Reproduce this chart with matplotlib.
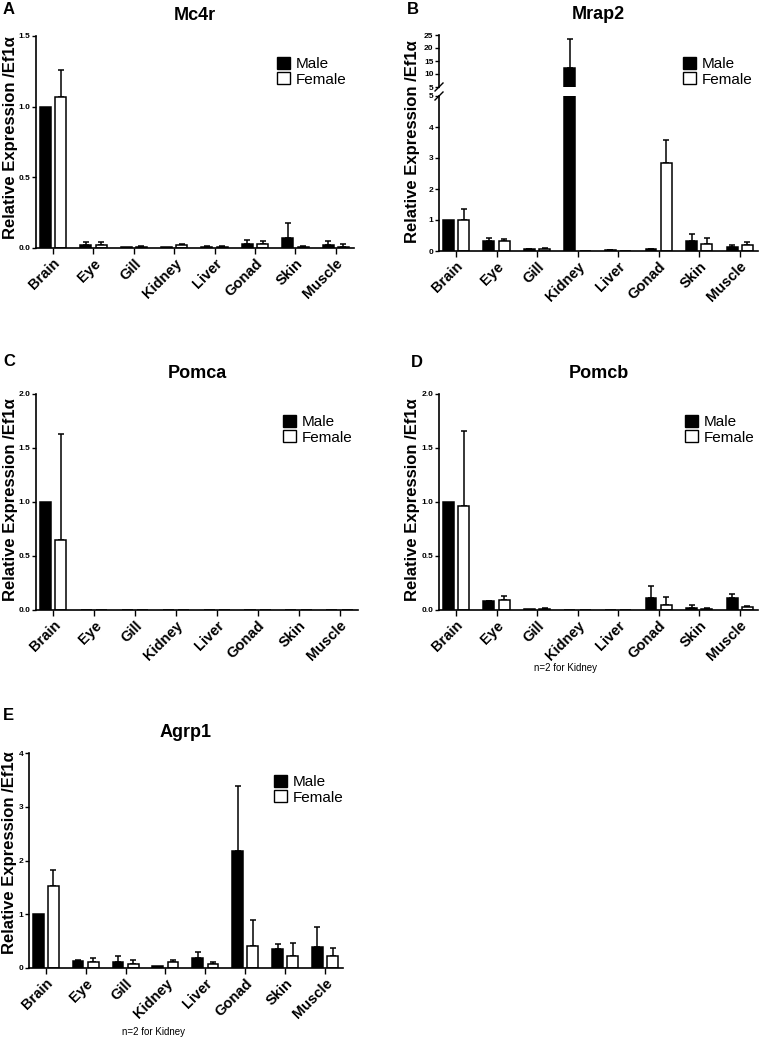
import matplotlib
matplotlib.use('Agg')
import matplotlib.pyplot as plt
from matplotlib.patches import Patch
import numpy as np

plt.rcParams['font.family'] = ['Liberation Sans', 'DejaVu Sans']

tissues = ['Brain', 'Eye', 'Gill', 'Kidney', 'Liver', 'Gonad', 'Skin', 'Muscle']

# Mc4r
mc4r_male = [1.0, 0.02, 0.005, 0.005, 0.008, 0.03, 0.07, 0.02]
mc4r_male_err = [0, 0.02, 0, 0, 0.007, 0.03, 0.11, 0.03]
mc4r_female = [1.07, 0.02, 0.01, 0.02, 0.008, 0.03, 0.008, 0.008]
mc4r_female_err = [0.19, 0.02, 0.005, 0.005, 0.007, 0.02, 0.007, 0.022]

# Mrap2
mrap2_male = [1.0, 0.33, 0.05, 12.5, 0.02, 0.05, 0.33, 0.12]
mrap2_male_err = [0, 0.1, 0.01, 11.0, 0.01, 0.03, 0.22, 0.08]
mrap2_female = [1.0, 0.33, 0.08, 0.01, 0.0, 2.85, 0.24, 0.2]
mrap2_female_err = [0.35, 0.05, 0.02, 0, 0, 0.73, 0.18, 0.1]

# Pomca
pomca_male = [1.0, 0, 0, 0, 0, 0, 0, 0]
pomca_male_err = [0, 0, 0, 0, 0, 0, 0, 0]
pomca_female = [0.65, 0, 0, 0, 0, 0, 0, 0]
pomca_female_err = [0.98, 0, 0, 0, 0, 0, 0, 0]

# Pomcb
pomcb_male = [1.0, 0.08, 0.005, 0, 0, 0.11, 0.02, 0.11]
pomcb_male_err = [0, 0.005, 0, 0, 0, 0.11, 0.03, 0.04]
pomcb_female = [0.96, 0.09, 0.01, 0, 0, 0.05, 0.01, 0.03]
pomcb_female_err = [0.70, 0.04, 0.005, 0, 0, 0.07, 0.005, 0.005]

# Agrp1
agrp1_male = [1.0, 0.13, 0.11, 0.04, 0.18, 2.17, 0.35, 0.40]
agrp1_male_err = [0, 0.01, 0.12, 0, 0.11, 1.21, 0.10, 0.36]
agrp1_female = [1.53, 0.12, 0.07, 0.11, 0.07, 0.41, 0.22, 0.23]
agrp1_female_err = [0.30, 0.06, 0.08, 0.04, 0.05, 0.48, 0.25, 0.14]

W, H = 765, 1038
fig = plt.figure(figsize=(W / 100, H / 100), dpi=100)

ylab = 'Relative Expression /Ef1\u03b1'
bw = 0.27
off = 0.19
lw = 1.1


def add_ax(left, top, right, bottom):
    return fig.add_axes([left / W, 1 - bottom / H, (right - left) / W, (bottom - top) / H])


def style(ax, xlabels=True):
    ax.spines['top'].set_visible(False)
    ax.spines['right'].set_visible(False)
    ax.spines['left'].set_linewidth(1.2)
    ax.spines['bottom'].set_linewidth(1.2)
    ax.tick_params(axis='y', length=3, width=1.0, labelsize=6, pad=1)
    for t in ax.get_yticklabels():
        t.set_fontweight('bold')
    ax.set_xlim(-0.42, 7.45)
    ax.set_xticks(np.arange(len(tissues)))
    if xlabels:
        ax.tick_params(axis='x', length=4, width=1.0, pad=2)
        ax.set_xticklabels(tissues, rotation=45, ha='right', rotation_mode='anchor',
                           fontsize=10.5, fontweight='bold')
    else:
        ax.tick_params(axis='x', length=0, labelbottom=False)


def draw_bars(ax, male, male_err, female, female_err):
    x = np.arange(len(tissues))
    ax.bar(x - off, male, bw, color='black', edgecolor='black', linewidth=lw, zorder=2)
    ax.bar(x + off, female, bw, color='white', edgecolor='black', linewidth=lw, zorder=2)
    for xs, vals, errs in [(x - off, male, male_err), (x + off, female, female_err)]:
        vals = np.array(vals)
        errs = np.array(errs)
        m = errs > 0
        ax.errorbar(xs[m], vals[m], yerr=[np.zeros(m.sum()), errs[m]], fmt='none',
                    ecolor='black', elinewidth=lw, capsize=2, capthick=lw, zorder=1)


def legend(ax, lx, ly):
    handles = [Patch(facecolor='black', edgecolor='black', linewidth=1.0),
               Patch(facecolor='white', edgecolor='black', linewidth=1.0)]
    ax.legend(handles, ['Male', 'Female'], loc='upper left', bbox_to_anchor=(lx / W, 1 - ly / H),
              bbox_transform=fig.transFigure, frameon=False, fontsize=11, borderpad=0,
              handlelength=0.85, handleheight=0.85, handletextpad=0.4, labelspacing=0.05,
              borderaxespad=0)


def title(ax, text):
    ax.annotate(text, xy=(0.5, 1), xycoords='axes fraction', xytext=(0, 15),
                textcoords='offset points', ha='center', va='center',
                fontsize=13, fontweight='bold')


def letter(x, y, s):
    fig.text(x / W, 1 - y / H, s, fontsize=12, fontweight='bold', ha='left', va='center')


def ylabel_at(x, y):
    fig.text(x / W, 1 - y / H, ylab, rotation=90, fontsize=12, fontweight='bold',
             ha='center', va='center')


# A: Mc4r
axA = add_ax(36, 36, 354, 248)
draw_bars(axA, mc4r_male, mc4r_male_err, mc4r_female, mc4r_female_err)
axA.set_ylim(0, 1.5)
axA.set_yticks([0, 0.5, 1.0, 1.5])
axA.set_yticklabels(['0.0', '0.5', '1.0', '1.5'])
style(axA)
legend(axA, 277, 57)
title(axA, 'Mc4r')
letter(3, 9, 'A')
ylabel_at(11, 138)

# B: Mrap2 (broken axis)
axB_top = add_ax(439, 35, 758, 87)
axB = add_ax(439, 96, 758, 251)
for ax in (axB_top, axB):
    draw_bars(ax, mrap2_male, mrap2_male_err, mrap2_female, mrap2_female_err)
axB_top.set_ylim(5, 25)
axB_top.set_yticks([5, 10, 15, 20, 25])
axB.set_ylim(0, 5)
axB.set_yticks([0, 1, 2, 3, 4, 5])
style(axB)
style(axB_top, xlabels=False)
axB_top.spines['bottom'].set_visible(False)
# break marks on the y axis
for ax, yy in ((axB_top, 0.0), (axB, 1.0)):
    h_px = ax.get_position().height * H
    w_px = ax.get_position().width * W
    ax.plot([-4 / w_px, 4 / w_px], [yy - 4 / h_px, yy + 4 / h_px], transform=ax.transAxes,
            color='black', lw=1.0, clip_on=False)
legend(axB, 683, 57)
title(axB_top, 'Mrap2')
letter(407, 9, 'B')
ylabel_at(413, 142)

# C: Pomca
axC = add_ax(36, 394, 358, 610)
draw_bars(axC, pomca_male, pomca_male_err, pomca_female, pomca_female_err)
axC.set_ylim(0, 2.0)
axC.set_yticks([0, 0.5, 1.0, 1.5, 2.0])
axC.set_yticklabels(['0.0', '0.5', '1.0', '1.5', '2.0'])
style(axC)
legend(axC, 283, 415)
title(axC, 'Pomca')
letter(3, 361, 'C')
ylabel_at(11, 500)

# D: Pomcb
axD = add_ax(439, 394, 758, 610)
draw_bars(axD, pomcb_male, pomcb_male_err, pomcb_female, pomcb_female_err)
axD.set_ylim(0, 2.0)
axD.set_yticks([0, 0.5, 1.0, 1.5, 2.0])
axD.set_yticklabels(['0.0', '0.5', '1.0', '1.5', '2.0'])
style(axD)
legend(axD, 685, 415)
title(axD, 'Pomcb')
letter(411, 362, 'D')
ylabel_at(413, 500)
fig.text(565 / W, 1 - 668 / H, 'n=2 for Kidney', fontsize=7, ha='center', va='center')

# E: Agrp1
axE = add_ax(29, 753, 343, 968)
draw_bars(axE, agrp1_male, agrp1_male_err, agrp1_female, agrp1_female_err)
axE.set_ylim(0, 4)
axE.set_yticks([0, 1, 2, 3, 4])
style(axE)
legend(axE, 274, 775)
title(axE, 'Agrp1')
letter(3, 715, 'E')
ylabel_at(10, 853)
fig.text(154 / W, 1 - 1032 / H, 'n=2 for Kidney', fontsize=7, ha='center', va='center')

fig.savefig('out.png', dpi=100)
